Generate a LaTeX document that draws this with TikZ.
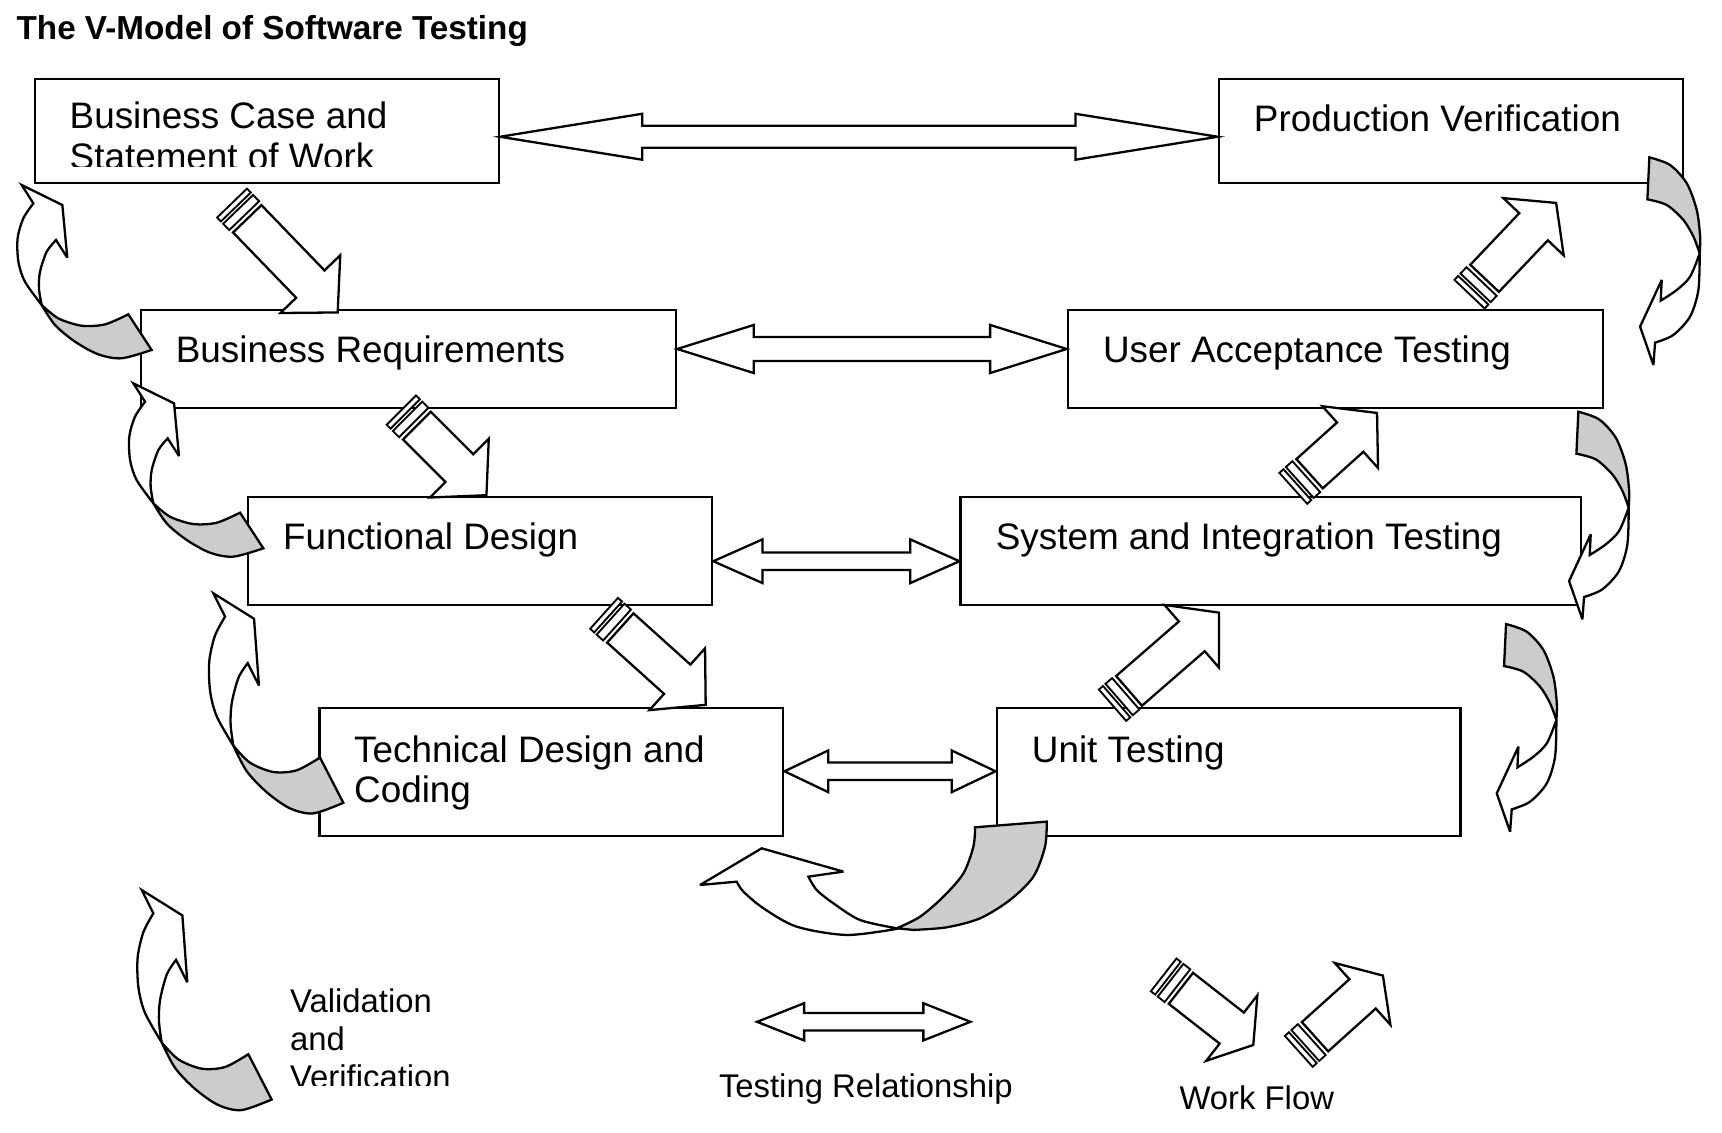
\documentclass[tikz,border=0pt]{standalone}
\usepackage{fontspec}
\setmainfont{Liberation Sans}
\usetikzlibrary{calc}

\definecolor{loopgray}{HTML}{CCCCCC}

\tikzset{
  stage/.style={draw, line width=2pt, rectangle, anchor=north west, inner sep=0pt},
  stagetext/.style={anchor=north west, inner sep=0pt, align=left, font=\fontsize{33.7pt}{37pt}\selectfont},
  legendtext/.style={anchor=north west, inner sep=0pt, align=left, font=\fontsize{30pt}{35pt}\selectfont},
  linkline/.style={draw, fill=white, line width=2.1pt, line join=miter},
  flowline/.style={draw, fill=white, line width=2.1pt, line join=miter},
  stripeline/.style={draw, fill=white, line width=1.7pt},
  loopline/.style={draw, line width=2.1pt, line join=miter, miter limit=4},
  % curved arrow, head up on the left side (origin = tip)
  checkup/.pic={
    \filldraw[loopline, fill=white] (31.4,50.3)
      -- plot[smooth] coordinates {(31.4,50.3) (22.9,60.9) (16.8,79.2) (15.8,94.5) (18.3,109.7)}
      -- plot[smooth] coordinates {(18.3,109.7) (3,88.4) (-3,70.1) (-3.7,48.8) (1.5,30.5) (10.7,16.8)}
      -- (0,0) -- (37.2,18.3) -- (41.7,66.4) -- cycle;
    \filldraw[loopline, fill=loopgray] (18.3,109.7)
      -- plot[smooth] coordinates {(18.3,109.7) (33.5,121.9) (54.8,128.6) (76.2,127.4) (97.5,118.2)}
      -- (118.8,150.8)
      -- plot[smooth] coordinates {(118.8,150.8) (91.4,158.4) (70.1,154.8) (48.8,143.2) (30.5,128) (18.3,109.7)}
      -- cycle;
  },
  % curved arrow, head down on the right side (origin = top of tail)
  checkdown/.pic={
    \filldraw[loopline, fill=white] (46,87.8)
      -- plot[smooth] coordinates {(46,87.8) (37.2,109.1) (25,121.3) (10.4,131)}
      -- (11.3,112.1) -- (-8.5,154.8) -- (3.7,189.8) -- (5.2,169.4)
      -- plot[smooth] coordinates {(5.2,169.4) (21.9,162.4) (37.2,145.6) (44.8,121.3) (46,87.8)}
      -- cycle;
    \filldraw[loopline, fill=loopgray] (0,0)
      -- plot[smooth] coordinates {(0,0) (18.9,7) (34.2,23.8) (43.3,48.1) (46.4,72.5) (46,87.8)}
      -- plot[smooth] coordinates {(46,87.8) (40.3,72.5) (31.1,57.3) (15.9,43.6) (-1.8,38.4)}
      -- cycle;
  }
}

% double outline arrow: from, to, y, head length, head half, shaft half
\newcommand{\testlink}[6]{%
  \coordinate (tl-a) at (#1 |- 0,#3);
  \coordinate (tl-b) at (#2 |- 0,#3);
  \draw[linkline] (tl-a) -- ([shift={(#4,-#5)}]tl-a) -- ([shift={(#4,-#6)}]tl-a)
    -- ([shift={(-#4,-#6)}]tl-b) -- ([shift={(-#4,-#5)}]tl-b) -- (tl-b)
    -- ([shift={(-#4,#5)}]tl-b) -- ([shift={(-#4,#6)}]tl-b)
    -- ([shift={(#4,#6)}]tl-a) -- ([shift={(#4,#5)}]tl-a) -- cycle;
}

% block arrow with stripes: tail, angle, shaft length, head length
\newcommand{\workflowarrow}[4]{%
  \begin{scope}[shift={#1}, rotate=#2]
    \draw[flowline] (0,-18) -- (#3,-18) -- (#3,-38) -- (#3+#4,0) -- (#3,38) -- (#3,18) -- (0,18) -- cycle;
    \draw[stripeline] (-12,-19) rectangle (-4,19);
    \draw[stripeline] (-20,-19) rectangle (-15,19);
  \end{scope}}

\begin{document}
\begin{tikzpicture}[x=1pt, y=-1pt]
	\fill[white] (0,0) rectangle (1574,1035);
	\useasboundingbox (0,0) rectangle (1574,1035);
	
	% title
	\node[legendtext, font=\bfseries\fontsize{30.4pt}{35pt}\selectfont] (title) at (15,14) {The V-Model of Software Testing};
	
	% stages, left side
	\node[stage, minimum width=424pt, minimum height=95pt] (bc) at (31,71) {};
	\node[stage, minimum width=489pt, minimum height=90pt] (br) at (128,282) {};
	\node[stage, minimum width=424pt, minimum height=99pt] (fd) at (226,453) {};
	\node[stage, minimum width=424pt, minimum height=117pt] (td) at (291,646) {};
	
	% stages, right side
	\node[stage, minimum width=424pt, minimum height=95pt] (pv) at (1113,71) {};
	\node[stage, minimum width=489pt, minimum height=90pt] (uat) at (975,282) {};
	\node[stage, minimum width=567pt, minimum height=99pt] (sit) at (877,453) {};
	\node[stage, minimum width=424pt, minimum height=117pt] (ut) at (910,646) {};
	
	% stage texts
	\begin{scope}
		\clip (bc.north west) rectangle ([yshift=16pt]bc.south east);
		\node[stagetext] (bc-text) at ([shift={(32.5,22)}]bc.north west) {Business Case and\\Statement of Work};
	\end{scope}
	\node[stagetext] (br-text) at ([shift={(32.5,25)}]br.north west) {Business Requirements};
	\node[stagetext] (fd-text) at ([shift={(32.5,25)}]fd.north west) {Functional Design};
	\node[stagetext] (td-text) at ([shift={(32.5,26)}]td.north west) {Technical Design and\\Coding};
	\node[stagetext] (pv-text) at ([shift={(33,25)}]pv.north west) {Production Verification};
	\node[stagetext] (uat-text) at ([shift={(33,25)}]uat.north west) {User Acceptance Testing};
	\node[stagetext] (sit-text) at ([shift={(33,25)}]sit.north west) {System and Integration Testing};
	\node[stagetext] (ut-text) at ([shift={(33,26)}]ut.north west) {Unit Testing};
	
	% testing relationships
	\testlink{bc.east}{pv.west}{125}{130}{21}{10}
	\testlink{br.east}{uat.west}{319}{70}{22}{11}
	\testlink{fd.east}{sit.west}{513}{45}{20}{8}
	\testlink{td.east}{ut.west}{705}{40}{19}{8}
	
	% work flow down
	\workflowarrow{(226,200)}{-46}{83}{36}
	\workflowarrow{(381,389)}{-45}{55}{35}
	\workflowarrow{(567,574)}{-42}{70}{35}
	
	% work flow up
	\workflowarrow{(1032,631.5)}{41}{76}{33}
	\workflowarrow{(1197,433)}{42}{50}{33}
	\workflowarrow{(1357,254.4)}{46.5}{65}{30}
	
	% validation and verification, left
	\pic at (19.8,169.1) {checkup};
	\pic at (121.9,350.4) {checkup};
	\pic[yscale=1.27] at (195,542.3) {checkup};
	
	% validation and verification, right
	\pic at (1507.6,143.8) {checkdown};
	\pic at (1442.7,376.3) {checkdown};
	\pic at (1376.6,570.4) {checkdown};
	
	% bottom turn, unit testing back to coding
	\filldraw[loopline, fill=white] (819.7,848.5)
		-- plot[smooth] coordinates {(819.7,848.5) (786.1,840.9) (761.8,825.7) (746.5,813.5) (738.9,801.3)}
		-- (770.9,796.7) -- (696.2,775.4) -- (639.9,808.9) -- (673.4,805.9)
		-- plot[smooth] coordinates {(673.4,805.9) (679.5,815) (697.8,830.2) (728.2,847) (774,854.6) (819.7,849)}
		-- cycle;
	\filldraw[loopline, fill=loopgray] (891.3,756.2) -- (956.8,751)
		-- plot[smooth] coordinates {(956.8,751) (955.2,773.9) (944.6,801.3) (923.2,822.6) (895.8,839.4) (865.4,847.6) (834.9,850)}
		-- (819.7,848.5)
		-- plot[smooth] coordinates {(819.7,848.5) (841,837.9) (862.3,819.6) (880.6,798.3) (889.7,773.9) (891.3,756.2)}
		-- cycle;
	
	% legend
	\pic[yscale=1.27] at (129.5,813.5) {checkup};
	\begin{scope}
		\clip (200,890) rectangle (500,992);
		\node[legendtext] (vv-text) at (265,903.3) {Validation\\and\\Verification};
	\end{scope}
	
	\coordinate (rel-l) at (692,934);
	\coordinate (rel-r) at (887,934);
	\testlink{rel-l}{rel-r}{934}{43}{17}{8}
	\node[legendtext] (rel-text) at (657,981.3) {Testing Relationship};
	
	\workflowarrow{(1079.4,903.4)}{-38}{59}{25}
	\workflowarrow{(1202,947.6)}{42}{58.5}{25}
	\node[legendtext] (flow-text) at (1078,992.3) {Work Flow};
\end{tikzpicture}
\end{document}
